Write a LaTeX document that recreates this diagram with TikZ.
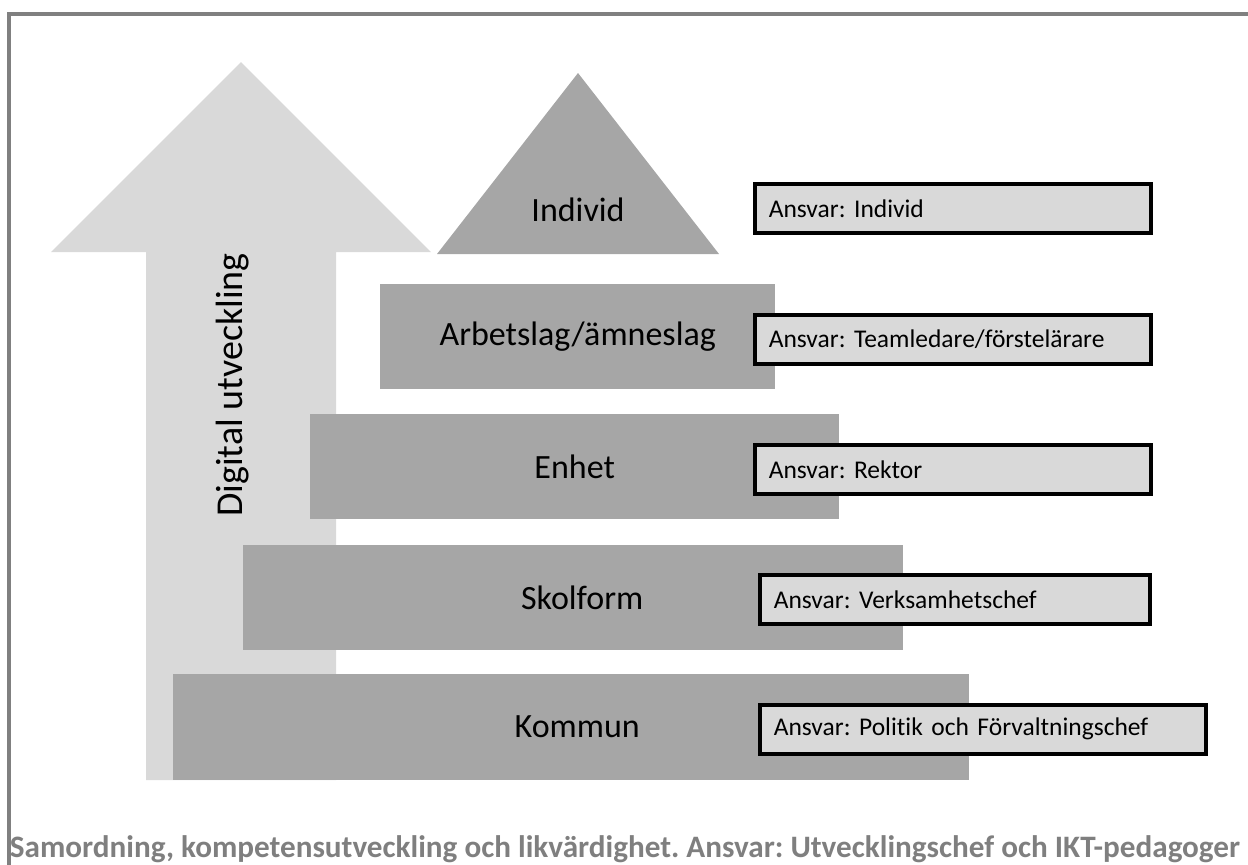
\documentclass[tikz,border=0pt]{standalone}
\usepackage{fontspec}
\setmainfont{Carlito}[Ligatures=NoCommon]
\usepackage{tikz}
\usetikzlibrary{positioning}
\definecolor{levelgray}{HTML}{A6A6A6}
\definecolor{arrowgray}{HTML}{D9D9D9}
\definecolor{framegray}{HTML}{808080}
\definecolor{captiongray}{HTML}{7F7F7F}
\tikzset{
    level/.style={fill=levelgray, anchor=north west, inner sep=0pt,
        font=\fontsize{34}{40}\selectfont},
    ansvar/.style={draw=black, line width=3.5pt, fill=arrowgray, anchor=north west,
        text width=368pt, inner xsep=14pt, inner ysep=0pt, minimum height=49pt,
        align=left, font=\fontsize{25.5}{30}\selectfont}
}
\frenchspacing

\begin{document}
\begin{tikzpicture}[x=1pt, y=-1pt]
    \useasboundingbox (0,0) rectangle (1248,865);
    \draw[framegray, line width=3.5pt] (9,870) -- (9,14) -- (1252,14);
    \fill[arrowgray] (146,780) -- (146,252) -- (51,252) -- (241,62) -- (431,252)
        -- (336,252) -- (336,780) -- cycle;
    \node[rotate=90, font=\fontsize{38}{44}\selectfont] at (233,385) (digital) {Digital utveckling};
    \fill[levelgray] (437,254) -- (578,73) -- (719,254) -- cycle;
    \node[font=\fontsize{34}{40}\selectfont] at (578,210) (individ) {Individ};
    \node[level, minimum width=395pt, minimum height=105pt] at (380,284) (arbetslag) {Arbetslag/ämneslag};
    \node[level, minimum width=529pt, minimum height=105pt] at (310,414) (enhet) {Enhet};
    \node[level, minimum width=660pt, minimum height=105pt] at (243,545) (skolform) {\hspace{18pt}Skolform};
    \node[level, minimum width=796pt, minimum height=106pt] at (173,674) (kommun) {\hspace{12pt}Kommun};
    \node[ansvar] at (753,182) (a1) {Ansvar: Individ};
    \node[ansvar] at (753,313) (a2) {Ansvar: Teamledare/förstelärare};
    \node[ansvar] at (753,443) (a3) {Ansvar: Rektor};
    \node[ansvar, text width=362pt] at (758,573) (a4) {Ansvar: Verksamhetschef};
    \node[ansvar, text width=418pt] at (758,703) (a5) {Ansvar: Politik och Förvaltningschef};
    \node[text=captiongray, font=\bfseries\fontsize{27}{32}\selectfont] at (625,849) (caption)
        {\resizebox{1230pt}{!}{Samordning, kompetensutveckling och likvärdighet. Ansvar: Utvecklingschef och IKT-pedagoger}};
\end{tikzpicture}
\end{document}
